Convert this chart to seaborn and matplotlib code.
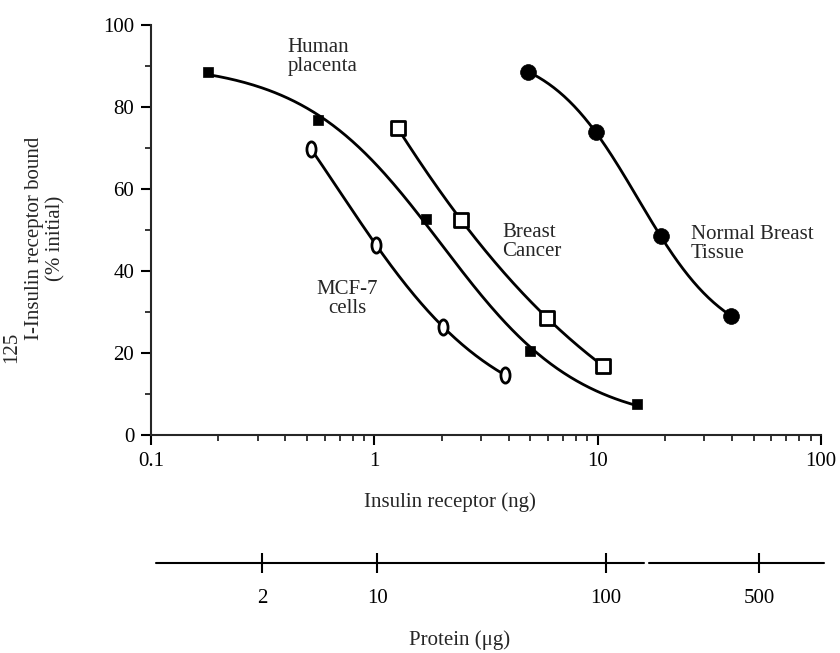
import numpy as np
import matplotlib
matplotlib.use("Agg")
import matplotlib.pyplot as plt
import seaborn as sns
from matplotlib.path import Path
from matplotlib.ticker import LogLocator, NullFormatter, FixedLocator, MultipleLocator

# values (x: insulin receptor in ng, y: % initial bound)
placenta_x = [0.18, 0.56, 1.7, 5.0, 15.0]
placenta_y = [88.5, 76.8, 52.7, 20.5, 7.5]
mcf7_x = [0.52, 1.02, 2.04, 3.85]
mcf7_y = [69.8, 46.3, 26.3, 14.6]
cancer_x = [1.27, 2.45, 5.95, 10.6]
cancer_y = [74.9, 52.4, 28.5, 16.8]
normal_x = [4.9, 9.8, 19.2, 39.5]
normal_y = [88.5, 73.9, 48.5, 29.0]

# second scale: protein (ug) labels and where they sit on the ng axis
protein_labels = ["2", "10", "100", "500"]
protein_at_ng = [0.315, 1.03, 10.9, 53.0]

sns.set_theme(style="ticks")
plt.rcParams["font.family"] = ["Liberation Serif", "DejaVu Serif"]
plt.rcParams["axes.linewidth"] = 1.5


def smooth(x, y, n=200):
    # least-squares logistic curve (in log-x) through the points
    lx = np.log10(x)
    y = np.asarray(y, float)
    cs = np.linspace(-1.5, 2.5, 401)[:, None, None]
    ss = np.linspace(0.2, 4.0, 381)[None, :, None]
    f = 1 / (1 + 10 ** (ss * (lx - cs)))
    fm = f.mean(axis=2, keepdims=True)
    ym = y.mean()
    a = ((f - fm) * (y - ym)).sum(axis=2, keepdims=True) / \
        ((f - fm) ** 2).sum(axis=2, keepdims=True)
    b = ym - a * fm
    err = ((b + a * f - y) ** 2).sum(axis=2)
    i, j = np.unravel_index(np.argmin(err), err.shape)
    c, s = cs[i, 0, 0], ss[0, j, 0]
    gx = np.linspace(lx[0], lx[-1], n)
    gy = b[i, j, 0] + a[i, j, 0] / (1 + 10 ** (s * (gx - c)))
    return 10 ** gx, gy


ellipse = Path(Path.unit_circle().vertices * [0.6, 1.0], Path.unit_circle().codes)

fig, ax = plt.subplots(figsize=(8.4, 6.53), dpi=100)
ax.set_position([151 / 840, 1 - 435 / 653, 670 / 840, 410 / 653])

for xs, ys in [(placenta_x, placenta_y), (mcf7_x, mcf7_y),
               (cancer_x, cancer_y), (normal_x, normal_y)]:
    cx, cy = smooth(xs, ys)
    sns.lineplot(x=cx, y=cy, ax=ax, color="black", lw=2, sort=False,
                 estimator=None)

sns.scatterplot(x=placenta_x, y=placenta_y, ax=ax, marker="s", s=50,
                color="black", edgecolor="black", linewidth=0.5, zorder=3)
sns.scatterplot(x=mcf7_x, y=mcf7_y, ax=ax, marker=ellipse, s=120,
                color="black", facecolor="white", edgecolor="black",
                linewidth=2, zorder=3)
sns.scatterplot(x=cancer_x, y=cancer_y, ax=ax, marker="s", s=115,
                color="black", facecolor="white", edgecolor="black",
                linewidth=2, zorder=3)
sns.scatterplot(x=normal_x, y=normal_y, ax=ax, marker="o", s=130,
                color="black", edgecolor="black", linewidth=0.5, zorder=3)

ax.set_xscale("log")
ax.set_xlim(0.1, 100)
ax.set_ylim(0, 100)
ax.set_xticks([0.1, 1, 10, 100])
ax.set_xticklabels(["0.1", "1", "10", "100"])
ax.xaxis.set_minor_locator(LogLocator(base=10, subs=np.arange(2, 10)))
ax.xaxis.set_minor_formatter(NullFormatter())
ax.set_yticks([0, 20, 40, 60, 80, 100])
ax.yaxis.set_minor_locator(MultipleLocator(10))
ax.tick_params(axis="both", which="major", direction="out", length=7,
               width=1.5, labelsize=15, pad=5, colors="black")
ax.tick_params(axis="both", which="minor", direction="out", length=4,
               width=1.3)
sns.despine(ax=ax)

ax.set_xlabel("Insulin receptor (ng)", fontsize=15)
ax.xaxis.set_label_coords(0.446, -0.139)
ax.set_ylabel("I-Insulin receptor bound\n(% initial)", fontsize=15)
ax.yaxis.set_label_coords(-0.127, 0.48)
fig.text(12 / 840, 1 - 347 / 653, "125", fontsize=15, rotation=90,
         ha="center", va="center")

ax.text(0.408, 96.8, "Human\nplacenta", fontsize=15, ha="left", va="top",
        linespacing=1.0)
ax.text(0.757, 37.8, "MCF-7\ncells", fontsize=15, ha="center", va="top",
        linespacing=1.0)
ax.text(3.75, 51.6, "Breast\nCancer", fontsize=15, ha="left", va="top",
        linespacing=1.0)
ax.text(26.1, 51.1, "Normal Breast\nTissue", fontsize=15, ha="left",
        va="top", linespacing=1.0)

# protein scale below
ax2 = fig.add_axes([151 / 840, 1 - 563 / 653, 670 / 840, 0.01])
ax2.set_xscale("log")
ax2.set_xlim(0.1, 100)
ax2.set_ylim(0, 1)
for sp in ax2.spines.values():
    sp.set_visible(False)
ax2.set_yticks([])
ax2.patch.set_visible(False)
tr = ax2.get_xaxis_transform()
ax2.plot([0.105, 16.1], [0, 0], color="black", lw=1.5, transform=tr,
         clip_on=False)
ax2.plot([16.9, 103], [0, 0], color="black", lw=1.5, transform=tr,
         clip_on=False)
ax2.xaxis.set_major_locator(FixedLocator(protein_at_ng))
ax2.set_xticklabels(protein_labels)
ax2.xaxis.set_minor_locator(FixedLocator([]))
ax2.tick_params(axis="x", which="major", direction="inout", length=14,
                width=1.5, labelsize=15, pad=12, colors="black")
fig.text(460 / 840, 1 - 640 / 653, "Protein (\u03bcg)", fontsize=15,
         ha="center", va="center")

fig.savefig("out.png", dpi=100)
